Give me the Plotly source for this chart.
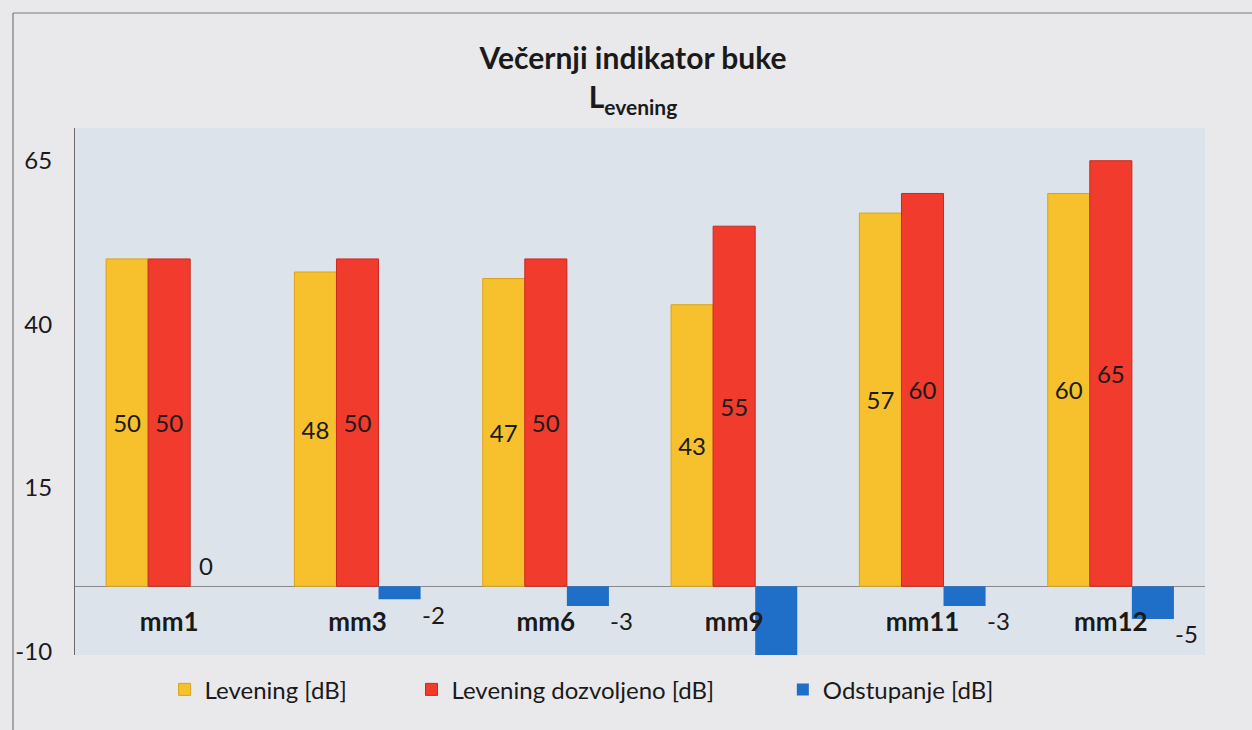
import plotly.graph_objects as go

categories = ["mm1", "mm3", "mm6", "mm9", "mm11", "mm12"]
levening = [50, 48, 47, 43, 57, 60]
dozvoljeno = [50, 50, 50, 55, 60, 65]
odstupanje = [0, -2, -3, -12, -3, -5]
series_names = ["Levening [dB]", "Levening dozvoljeno [dB]", "Odstupanje [dB]"]
y_ticks = [65, 40, 15, -10]

Y_MIN, Y_MAX = -10.5, 70
FONT = "Lato"
TXT = "#1a1a1a"
FS = 24

fig = go.Figure()
fig.add_trace(go.Bar(
    x=categories, y=levening, name=series_names[0],
    marker=dict(color="#f6c12c", line=dict(color="#d9a21a", width=1)),
    text=levening, textposition="inside", insidetextanchor="middle",
    textfont=dict(family=FONT, size=FS, color=TXT), legend="legend",
))
fig.add_trace(go.Bar(
    x=categories, y=dozvoljeno, name=series_names[1],
    marker=dict(color="#f03b2d", line=dict(color="#c92a20", width=1)),
    text=dozvoljeno, textposition="inside", insidetextanchor="middle",
    textfont=dict(family=FONT, size=FS, color=TXT), legend="legend2",
))
fig.add_trace(go.Bar(
    x=categories, y=odstupanje, name=series_names[2],
    marker=dict(color="#1f6fc9", line=dict(width=0)),
    textposition="none", legend="legend3",
))

# value labels for the deviation series (offset to the right of the bar, as in the source)
for c, v in zip(categories, odstupanje):
    if v < Y_MIN:
        continue
    if v == 0:
        fig.add_annotation(x=c, y=v, xref="x", yref="y", text=str(v), showarrow=False,
                           xshift=37, yshift=21, font=dict(family=FONT, size=FS, color=TXT))
    else:
        fig.add_annotation(x=c, y=v, xref="x", yref="y", text=str(v), showarrow=False,
                           xshift=76, yshift=-15, font=dict(family=FONT, size=FS, color=TXT))

zero_pos = (0 - Y_MIN) / (Y_MAX - Y_MIN)

leg_common = dict(orientation="h", y=-0.066, xanchor="left", yanchor="middle",
                  bgcolor="rgba(0,0,0,0)", font=dict(family=FONT, size=FS, color=TXT))

fig.update_layout(
    width=1252, height=730,
    margin=dict(l=75, r=47, t=128, b=75),
    paper_bgcolor="#e9e9ec",
    plot_bgcolor="#dde3ea",
    barmode="group", bargap=0.33, bargroupgap=0,
    font=dict(family=FONT, size=FS, color=TXT),
    title=dict(
        text="<b>Večernji indikator buke</b><br><b>L<sub>evening</sub></b>",
        x=0.5056, xanchor="center", y=0.905, yanchor="top",
        font=dict(family=FONT, size=30, color=TXT),
    ),
    xaxis=dict(
        type="category", anchor="free", position=zero_pos,
        showline=False, showgrid=False, ticks="", ticklabelstandoff=18,
        tickfont=dict(family=FONT, size=26, color=TXT, weight="bold"),
    ),
    yaxis=dict(
        range=[Y_MIN, Y_MAX], tickvals=y_ticks, ticktext=[str(v) for v in y_ticks],
        showgrid=False,
        zeroline=True, zerolinecolor="#8a8a8a", zerolinewidth=1.2,
        showline=True, linecolor="#6a6a6a", linewidth=1.2,
        ticks="", ticklabelstandoff=17,
        tickfont=dict(family=FONT, size=FS, color=TXT),
    ),
    showlegend=True,
    legend=dict(x=0.0793, **leg_common),
    legend2=dict(x=0.2978, **leg_common),
    legend3=dict(x=0.6264, **leg_common),
    shapes=[
        dict(type="line", xref="paper", yref="paper",
             x0=(13 - 75) / 1130, x1=(1252 - 75) / 1130,
             y0=(655 - 13) / 527, y1=(655 - 13) / 527,
             line=dict(color="#7a7a7a", width=1.2), layer="below"),
        dict(type="line", xref="paper", yref="paper",
             x0=(13 - 75) / 1130, x1=(13 - 75) / 1130,
             y0=(655 - 730) / 527, y1=(655 - 13) / 527,
             line=dict(color="#7a7a7a", width=1.2), layer="below"),
    ],
)

fig.write_html("out.html", config={"displayModeBar": False},
               post_script="document.body.style.margin='0';document.body.style.padding='0';")
